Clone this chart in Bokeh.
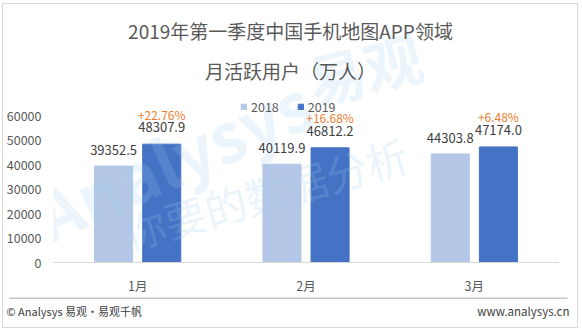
from bokeh.plotting import figure
from bokeh.layouts import column
from bokeh.models import (Range1d, FixedTicker, Label, LabelSet, ColumnDataSource,
                          Legend, LegendItem, BoxAnnotation)
from bokeh.core.properties import value
from bokeh.embed import file_html
from bokeh.resources import INLINE

months = ["1月", "2月", "3月"]
mau_2018 = [39352.5, 40119.9, 44303.8]
mau_2019 = [48307.9, 46812.2, 47174.0]
growth = ["+22.76%", "+16.68%", "+6.48%"]
y_ticks = [0, 10000, 20000, 30000, 40000, 50000, 60000]

FONT = "Noto Sans CJK SC"
GRAY = "#595959"

# page geometry (canvas pixels of the reference)
OX, OY = 3, 4                 # inner origin of the bordered box
W_IN, BOT_PANEL, H_FOOT = 574, 35, 30
L_c, R_c, T60_c, B_c = 53, 558, 115, 262
L, R, B = L_c - OX, R_c - OX, B_c - OY
H_MAIN = B + BOT_PANEL
Y_END = 60000 * B / (B_c - T60_c)

p = figure(width=W_IN, height=H_MAIN, output_backend="svg", toolbar_location=None,
           title=None, x_range=Range1d(-0.5, 2.5), y_range=Range1d(0, Y_END),
           min_border_left=L, min_border_right=W_IN - R, min_border_top=0,
           min_border_bottom=BOT_PANEL)
p.frame_align = False
p.outline_line_color = None
p.grid.visible = False
p.background_fill_color = "white"
p.border_fill_color = "white"

def dx(px):
    return (px - L_c) / (R_c - L_c) * 3 - 0.5

def dy(py):
    return (B_c - py) * 60000 / (B_c - T60_c)

off, bw = 0.143, 0.226
idx = list(range(len(months)))
src = ColumnDataSource(dict(
    x18=[i - off for i in idx], x19=[i + off for i in idx],
    y18=mau_2018, y19=mau_2019,
    l18=[f"{v:.1f}" for v in mau_2018], l19=[f"{v:.1f}" for v in mau_2019],
    g=growth))

# faint watermark
wm = "#9fcdf0"
p.add_layout(Label(x=dx(58), y=dy(262), text="Analysys", angle=0.42,
                   text_font=FONT, text_font_size="68px", text_color=wm,
                   text_alpha=0.2, text_font_style="bold"))
p.add_layout(Label(x=dx(318), y=dy(122), text="易观", angle=0.25,
                   text_font=FONT, text_font_size="58px", text_color=wm,
                   text_alpha=0.2, text_font_style="bold"))
p.add_layout(Label(x=dx(132), y=dy(262), text="你要的数据分析", angle=0.28,
                   text_font=FONT, text_font_size="42px", text_color=wm,
                   text_alpha=0.22))

r18 = p.vbar(x="x18", top="y18", width=bw, source=src, color="#B4C7E7")
r19 = p.vbar(x="x19", top="y19", width=bw, source=src, color="#4472C4")

p.add_layout(LabelSet(x="x18", y="y18", text="l18", source=src, text_align="center",
                      text_baseline="middle", y_offset=16, text_font=value(FONT),
                      text_font_size="13px", text_color="#404040"))
p.add_layout(LabelSet(x="x19", y="y19", text="l19", source=src, text_align="center",
                      text_baseline="middle", y_offset=17, text_font=value(FONT),
                      text_font_size="13px", text_color="#404040"))
p.add_layout(LabelSet(x="x19", y="y19", text="g", source=src, text_align="center",
                      text_baseline="middle", y_offset=30, text_font=value(FONT),
                      text_font_size="12px", text_color="#ED7D31"))

# axes
p.yaxis.ticker = FixedTicker(ticks=y_ticks)
p.yaxis.axis_line_color = None
p.yaxis.major_tick_line_color = None
p.yaxis.major_tick_out = 0
p.yaxis.major_tick_in = 0
p.yaxis.minor_tick_line_color = None
p.yaxis.major_label_text_font = FONT
p.yaxis.major_label_text_font_size = "12.5px"
p.yaxis.major_label_text_color = GRAY
p.yaxis.major_label_standoff = 12
p.yaxis.formatter.use_scientific = False

p.xaxis.ticker = FixedTicker(ticks=idx)
p.xaxis.major_label_overrides = {i: m for i, m in zip(idx, months)}
p.xaxis.axis_line_color = "#D9D9D9"
p.xaxis.axis_line_width = 1
p.xaxis.major_tick_line_color = None
p.xaxis.major_tick_out = 0
p.xaxis.major_tick_in = 0
p.xaxis.minor_tick_line_color = None
p.xaxis.major_label_text_font = FONT
p.xaxis.major_label_text_font_size = "12.5px"
p.xaxis.major_label_text_color = GRAY
p.xaxis.major_label_standoff = 13

# legend
leg = Legend(items=[LegendItem(label="2018", renderers=[r18]),
                    LegendItem(label="2019", renderers=[r19])],
             orientation="horizontal", location=(240 - L_c, B_c - 116),
             glyph_width=7, glyph_height=7, label_height=14, label_standoff=4,
             spacing=18, padding=0, margin=0, border_line_color=None,
             background_fill_alpha=0, label_text_font=FONT,
             label_text_font_size="12.5px", label_text_color=GRAY)
p.add_layout(leg, "center")

# titles
for txt, py in [("2019年第一季度中国手机地图APP领域", 30), ("月活跃用户（万人）", 70)]:
    p.add_layout(Label(x=dx(290), y=dy(py), text=txt, text_align="center",
                       text_baseline="middle", text_font=FONT,
                       text_font_size="19px", text_color=GRAY))

# footer strip (frame covers whole strip, coordinates in pixels of the strip)
f = figure(width=W_IN, height=H_FOOT, output_backend="svg", toolbar_location=None,
           title=None, x_range=Range1d(0, W_IN), y_range=Range1d(H_FOOT, 0),
           min_border=0, x_axis_location=None, y_axis_location=None)
f.frame_align = False
f.outline_line_color = None
f.grid.visible = False
f.background_fill_color = "white"
f.border_fill_color = "white"
foot_top = OY + H_MAIN
f.add_layout(BoxAnnotation(left=9 - OX, right=567 - OX, top=0, bottom=1,
                           fill_color="#8c8c8c", fill_alpha=1, line_color=None))
f.add_layout(Label(x=6 - OX, y=310 - foot_top, text="© Analysys 易观·易观千帆",
                   text_baseline="middle", text_font=FONT, text_font_size="11px",
                   text_color="#404040"))
f.add_layout(Label(x=569 - OX, y=310 - foot_top, text="www.analysys.cn",
                   text_align="right", text_baseline="middle", text_font=FONT,
                   text_font_size="11.5px", text_color="#404040"))

page = column(p, f, spacing=0,
              styles={"margin": "3px 0 0 2px", "border": "1px solid #D9D9D9"})

open("out.html", "w").write(file_html(page, INLINE))
